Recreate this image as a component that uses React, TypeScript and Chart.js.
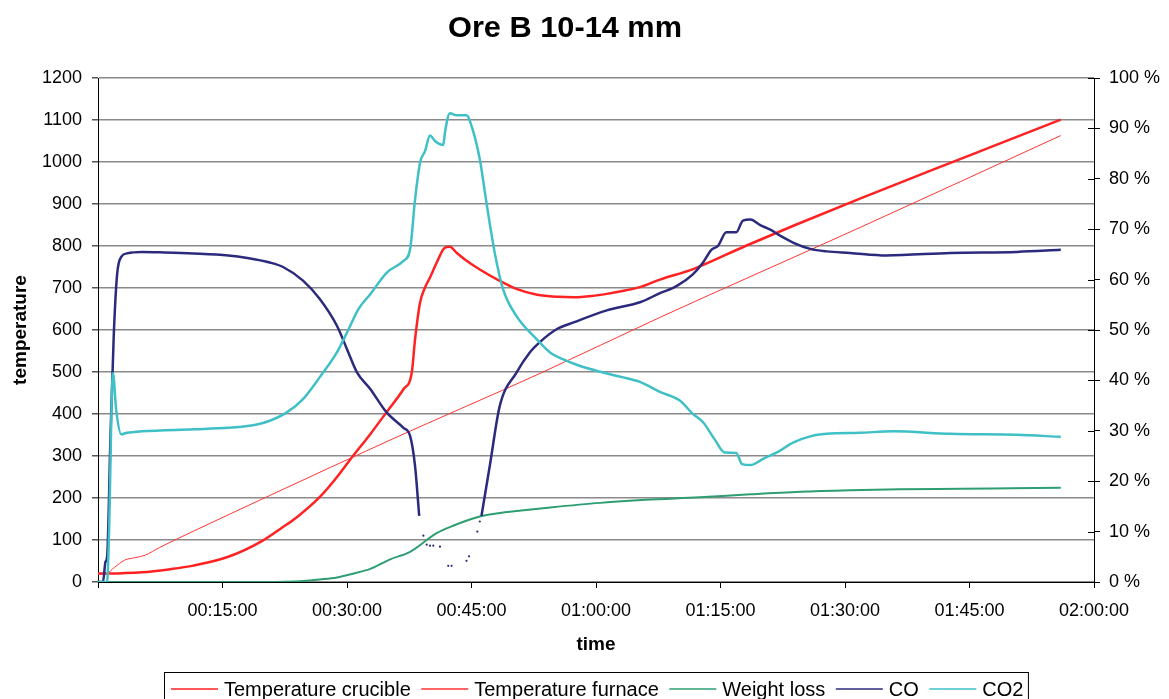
import React, { useEffect, useRef } from 'react';
import { Chart, registerables } from 'chart.js';

Chart.register(...registerables);

const FONT = '"Liberation Sans", Arial, sans-serif';
const TITLE = 'Ore B 10-14 mm';
const X_TITLE = 'time';
const Y_TITLE = 'temperature';

// time in minutes
const crucibleT = [0, 3, 5.3, 8.5, 11.5, 15.7, 19.8, 22, 24, 26.7, 28.8, 30.6, 32.8, 34.9, 36.8, 37.8, 38.2, 38.8, 39.4, 40, 40.8, 41.8, 42.4, 43.2, 44.2, 46, 48.4, 50.4, 52.9, 55.5, 57.3, 59.5, 61.3, 63.5, 65.3, 67.7, 71.7, 78, 84, 91.8, 100, 108, 116];
const crucibleV = [20, 21, 23, 30, 39, 60, 98, 127, 155, 202, 250, 297, 352, 408, 459, 498, 578, 665, 701, 725, 760, 796, 798, 784, 768, 744, 717, 698, 684, 679, 678, 681, 686, 694, 702, 720, 745, 800, 850, 913, 977, 1039, 1101];

const furnaceT = [0, 1, 2, 3.2, 4.5, 5.7, 7.4, 11.5, 20.7, 35.2, 53.3, 67.7, 91.8, 116];
const furnaceV = [18, 20, 35, 52, 58, 64, 82, 121, 206, 338, 497, 630, 844, 1063];

const weightT = [0, 20, 22.5, 24.7, 26.7, 28.8, 30.6, 32.8, 35.2, 37.6, 40.8, 43, 44.8, 46, 48, 51, 54.5, 60.5, 66, 72.5, 78.6, 84.6, 90.6, 96.6, 104, 110, 116];
const weightV = [0, 0, 0.05, 0.2, 0.5, 0.9, 1.6, 2.6, 4.5, 6.0, 9.7, 11.3, 12.4, 13.0, 13.6, 14.2, 14.8, 15.7, 16.3, 16.8, 17.4, 17.9, 18.2, 18.4, 18.5, 18.6, 18.7];

const coT = [0, 0.6, 0.9, 1.1, 1.5, 1.9, 2.3, 2.8, 3.5, 5.3, 8, 11.5, 15.7, 18, 20.7, 22.3, 24.7, 26.7, 28.8, 30, 31.2, 32.8, 34.8, 36.8, 37.6, 38.2, 38.7, 42, 46.2, 47.2, 48.4, 50.4, 52, 53.3, 55.3, 57.3, 61.3, 65.3, 67.7, 69.7, 71.7, 72.9, 73.9, 74.7, 75.7, 76.9, 77.7, 78.6, 79.8, 81, 82.2, 83.8, 85.8, 87.8, 90.6, 95, 102.7, 110.7, 116];
const coV = [0, 0, 4, 5, 28.6, 49, 61, 64.5, 65.2, 65.5, 65.4, 65.2, 64.8, 64.3, 63.4, 62.5, 59.8, 56.2, 50.8, 46.2, 41.6, 38.3, 33.6, 30.6, 29, 23, 13.1, null, 13.1, 23, 34.9, 41.5, 45.5, 47.7, 50.2, 51.5, 53.9, 55.5, 57.3, 58.7, 61.1, 63.4, 65.9, 66.7, 69.4, 69.4, 71.7, 71.9, 70.8, 69.9, 68.7, 67.3, 66.1, 65.6, 65.3, 64.8, 65.3, 65.5, 65.9];

const coDotsT = [39.2, 39.6, 40.0, 40.4, 41.2, 42.2, 42.6, 44.4, 44.7, 45.7, 46.0];
const coDotsV = [9.2, 7.4, 7.2, 7.2, 7.0, 3.2, 3.2, 4.2, 5.1, 10.0, 12.0];

const co2T = [0, 1.1, 1.3, 1.8, 2.2, 2.8, 3.5, 5.3, 11.5, 15.7, 19, 20.7, 22.7, 24.7, 26.7, 28.8, 30, 31.4, 32.8, 34.8, 36.8, 37.6, 38.2, 38.8, 39.4, 40, 40.6, 41.6, 41.8, 42.4, 43.2, 44.4, 44.8, 46, 46.8, 47.8, 48.8, 50.4, 52.9, 54.5, 56, 58, 60.5, 63, 65.3, 67.7, 70.1, 71.7, 72.9, 74.3, 75.5, 76.9, 77.6, 78.6, 80.2, 81.8, 83.8, 85.8, 87.8, 91.8, 95.8, 102.7, 110.7, 116];
const co2V = [0, 0, 8, 41.4, 34, 29.3, 29.6, 29.9, 30.3, 30.6, 31.2, 32, 33.6, 36.3, 40.6, 45.6, 49.5, 54.2, 57.1, 61.4, 63.7, 66, 75.9, 83.2, 85.5, 88.6, 87.5, 86.7, 89.2, 93, 92.6, 92.6, 91.5, 83.9, 75.3, 65.3, 58.1, 52.8, 48.1, 45.5, 44.2, 42.9, 41.7, 40.7, 39.7, 37.7, 36, 33.3, 31.7, 28.3, 25.7, 25.6, 23.4, 23.2, 24.5, 25.7, 27.7, 28.9, 29.4, 29.6, 29.9, 29.4, 29.2, 28.8];

const X_MIN = 0;
const X_MAX = 120;
const X_STEP = 15;
const TEMP_MAX = 1200;
const TEMP_STEP = 100;
const PCT_MAX = 100;
const PCT_STEP = 10;

const SERIES = [
  { label: 'Temperature crucible', color: '#FF2222', width: 2.5 },
  { label: 'Temperature furnace', color: '#FF3535', width: 1 },
  { label: 'Weight loss', color: '#2E9E72', width: 2 },
  { label: 'CO', color: '#2B2A7C', width: 2.5 },
  { label: 'CO2', color: '#3EC0C6', width: 2.5 },
];

const pts = (t: number[], v: (number | null)[]) => t.map((x, i) => ({ x, y: v[i] }));
const pad2 = (n: number) => String(n).padStart(2, '0');
const fmtTime = (m: number) => {
  const h = Math.floor(m / 60);
  const mm = Math.round(m - h * 60);
  return `${pad2(h)}:${pad2(mm)}:00`;
};

const W = 1169;
const H = 699;

const decorPlugin = {
  id: 'decor',
  afterDraw(chart: any) {
    const ctx: CanvasRenderingContext2D = chart.ctx;
    const area = chart.chartArea;
    ctx.save();
    ctx.fillStyle = '#000';

    // Title
    ctx.font = `bold 29px ${FONT}`;
    ctx.textAlign = 'center';
    ctx.textBaseline = 'alphabetic';
    const tw = ctx.measureText(TITLE).width;
    ctx.save();
    ctx.translate(565, 37);
    ctx.scale(234 / tw, 1);
    ctx.fillText(TITLE, 0, 0);
    ctx.restore();

    // Axis titles
    ctx.font = `bold 19px ${FONT}`;
    ctx.textAlign = 'center';
    ctx.fillText(X_TITLE, (area.left + area.right) / 2, 650);
    ctx.save();
    ctx.translate(26, (area.top + area.bottom) / 2);
    ctx.rotate(-Math.PI / 2);
    ctx.textBaseline = 'alphabetic';
    ctx.fillText(Y_TITLE, 0, 0);
    ctx.restore();

    // Right axis inner tick marks (cross ticks)
    const y1 = chart.scales.y1;
    ctx.strokeStyle = '#000';
    ctx.lineWidth = 1;
    y1.ticks.forEach((t: any) => {
      const y = Math.round(y1.getPixelForValue(t.value)) + 0.5;
      ctx.beginPath();
      ctx.moveTo(area.right - 6, y);
      ctx.lineTo(area.right, y);
      ctx.stroke();
    });

    // Legend
    ctx.font = `20px ${FONT}`;
    ctx.textAlign = 'left';
    ctx.textBaseline = 'alphabetic';
    const lineLen = 47;
    const lineGap = 6;
    const itemGap = 10.5;
    let x = 171;
    const ly = 689;
    SERIES.forEach((s) => {
      ctx.strokeStyle = s.color;
      ctx.lineWidth = 1.5;
      ctx.beginPath();
      ctx.moveTo(x, ly);
      ctx.lineTo(x + lineLen, ly);
      ctx.stroke();
      const tx = x + lineLen + lineGap;
      ctx.fillStyle = '#000';
      ctx.fillText(s.label, tx, 696);
      x = tx + ctx.measureText(s.label).width + itemGap;
    });
    ctx.strokeStyle = '#000';
    ctx.lineWidth = 1;
    ctx.strokeRect(164.5, 672.5, x - itemGap + 5 - 164.5, 40);
    ctx.restore();
  },
};

export default function App() {
  const ref = useRef<HTMLCanvasElement | null>(null);

  useEffect(() => {
    if (!ref.current) return;
    const common = { pointRadius: 0, fill: false, cubicInterpolationMode: 'monotone' as const };
    const chart = new Chart(ref.current, {
      type: 'line',
      data: {
        datasets: [
          { ...common, label: SERIES[0].label, data: pts(crucibleT, crucibleV), borderColor: SERIES[0].color, borderWidth: SERIES[0].width, yAxisID: 'y', order: 5 },
          { ...common, label: SERIES[1].label, data: pts(furnaceT, furnaceV), borderColor: SERIES[1].color, borderWidth: SERIES[1].width, yAxisID: 'y', order: 4 },
          { ...common, label: SERIES[2].label, data: pts(weightT, weightV), borderColor: SERIES[2].color, borderWidth: SERIES[2].width, yAxisID: 'y1', order: 3 },
          { ...common, label: SERIES[3].label, data: pts(coT, coV), borderColor: SERIES[3].color, borderWidth: SERIES[3].width, yAxisID: 'y1', order: 2, spanGaps: false },
          { label: 'CO samples', data: pts(coDotsT, coDotsV), showLine: false, pointRadius: 1.1, pointBorderWidth: 0, pointBackgroundColor: SERIES[3].color, borderColor: SERIES[3].color, yAxisID: 'y1', order: 2 },
          { ...common, label: SERIES[4].label, data: pts(co2T, co2V), borderColor: SERIES[4].color, borderWidth: SERIES[4].width, yAxisID: 'y1', order: 1 },
        ],
      },
      options: {
        responsive: false,
        animation: false,
        parsing: true,
        layout: { padding: { top: 78, left: 0, right: 0, bottom: 0 } },
        plugins: {
          legend: { display: false },
          title: { display: false },
          tooltip: { enabled: false },
        },
        scales: {
          x: {
            type: 'linear',
            min: X_MIN,
            max: X_MAX,
            ticks: {
              stepSize: X_STEP,
              color: '#000',
              font: { family: FONT, size: 18 },
              padding: 12,
              maxRotation: 0,
              autoSkip: false,
              callback: (v: any) => (Number(v) === 0 ? '' : fmtTime(Number(v))),
            },
            grid: { drawOnChartArea: false, drawTicks: true, tickLength: 6, tickColor: '#000' },
            border: { color: '#000', width: 1 },
            afterFit: (s: any) => { s.height = H - 582; },
          },
          y: {
            position: 'left',
            min: 0,
            max: TEMP_MAX,
            ticks: { stepSize: TEMP_STEP, color: '#000', font: { family: FONT, size: 18 }, padding: 10, callback: (v: any) => String(v) },
            grid: { color: '#8a8a8a', lineWidth: 1.5, tickLength: 6, tickColor: '#555' },
            border: { color: '#000', width: 1 },
            afterFit: (s: any) => { s.width = 98; },
          },
          y1: {
            position: 'right',
            min: 0,
            max: PCT_MAX,
            ticks: { stepSize: PCT_STEP, color: '#000', font: { family: FONT, size: 18 }, padding: 9, callback: (v: any) => `${v} %` },
            grid: { drawOnChartArea: false, tickLength: 6, tickColor: '#000' },
            border: { color: '#000', width: 1 },
            afterFit: (s: any) => { s.width = W - 1094; },
          },
        },
      },
      plugins: [decorPlugin],
    });
    return () => chart.destroy();
  }, []);

  return (
    <div style={{ position: 'fixed', left: 0, top: 0, width: W, height: H, background: '#fff' }}>
      <canvas ref={ref} width={W} height={H} style={{ display: 'block' }} />
    </div>
  );
}
